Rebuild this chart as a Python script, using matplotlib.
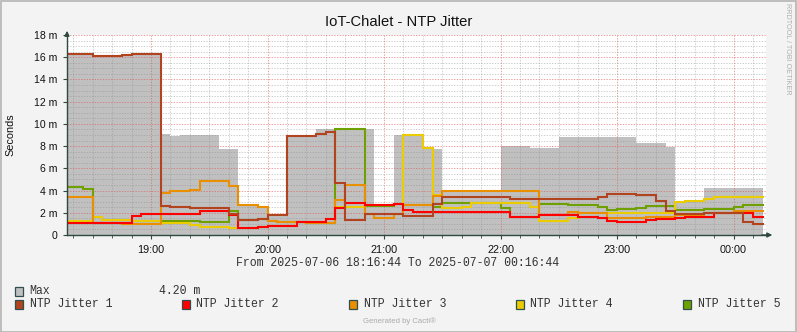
import datetime as dt
import matplotlib
matplotlib.use('Agg')
import matplotlib.pyplot as plt
import matplotlib.dates as mdates
from matplotlib.patches import Rectangle
from matplotlib.ticker import MultipleLocator, FuncFormatter

# values are in milliseconds ("m" on the axis)
t_end_data = "00:15"

max_t = ["18:16:44", "18:30", "18:45", "18:50", "19:05", "19:10", "19:15", "19:35", "19:45",
         "19:55", "20:00", "20:10", "20:25", "20:55", "21:05", "21:20", "21:30", "22:00",
         "22:15", "22:30", "23:10", "23:25", "23:30", "23:45"]
max_v = [16.3, 16.1, 16.2, 16.25, 9.1, 8.9, 9.0, 7.7, 2.67,
         2.5, 1.8, 9.0, 9.5, 2.73, 9.0, 7.7, 3.93, 8.0,
         7.8, 8.8, 8.25, 7.95, 3.06, 4.2]

j1_t = ["18:16:44", "18:30", "18:45", "18:50", "19:05", "19:10", "19:20", "19:40", "19:45",
        "19:55", "20:00", "20:10", "20:25", "20:30", "20:35", "20:40", "20:50", "21:10",
        "21:25", "21:30", "22:05", "22:50", "22:55", "23:10", "23:20", "23:25", "23:30",
        "23:45", "00:05", "00:10"]
j1_v = [16.3, 16.1, 16.2, 16.25, 2.58, 2.49, 2.4, 1.85, 1.32,
        1.44, 1.77, 8.9, 9.06, 9.3, 4.65, 1.32, 1.92, 1.74,
        2.79, 3.39, 3.27, 3.42, 3.66, 3.57, 3.03, 2.13, 1.92,
        1.98, 1.14, 1.02]

j2_t = ["18:16:44", "18:30", "18:50", "18:55", "19:25", "19:40", "19:45", "19:55", "20:00",
        "20:15", "20:30", "20:35", "20:40", "20:50", "21:05", "21:10", "21:15", "22:05",
        "22:20", "22:35", "22:40", "22:50", "22:55", "23:00", "23:15", "23:20", "23:30",
        "23:35", "23:50", "00:10"]
j2_v = [1.08, 1.1, 1.74, 1.89, 2.19, 1.83, 0.63, 0.72, 0.78,
        1.17, 1.47, 2.4, 2.85, 2.7, 2.79, 2.22, 2.04, 1.62,
        1.8, 1.77, 1.62, 1.53, 1.23, 1.14, 1.32, 1.44, 1.5,
        1.64, 2.0, 1.66]

j3_t = ["18:16:44", "18:30", "18:45", "19:05", "19:10", "19:20", "19:25", "19:40", "19:45",
        "19:55", "20:00", "20:05", "20:20", "20:35", "20:40", "20:50", "20:55", "21:05",
        "21:10", "21:25", "21:30", "22:20", "22:35", "22:40", "22:55", "23:15", "23:30",
        "23:45", "00:00"]
j3_v = [3.39, 1.1, 0.99, 3.81, 3.93, 4.02, 4.83, 4.38, 2.67,
        2.49, 1.23, 1.14, 1.05, 3.12, 4.47, 1.92, 1.53, 1.92,
        2.73, 3.48, 3.93, 1.83, 2.04, 1.98, 1.53, 1.62, 1.83,
        1.98, 2.13]

j4_t = ["18:16:44", "18:30", "18:35", "18:50", "19:05", "19:20", "19:25", "19:40", "19:55",
        "20:00", "20:15", "20:30", "20:35", "20:50", "21:05", "21:10", "21:20", "21:25",
        "21:30", "21:40", "21:45", "22:15", "22:20", "22:25", "22:35", "22:40", "23:30",
        "23:35", "23:45", "23:50"]
j4_v = [1.23, 1.62, 1.32, 1.27, 1.05, 0.87, 0.75, 0.63, 0.72,
        0.78, 1.17, 1.47, 2.52, 2.7, 2.79, 9.0, 7.8, 3.63,
        2.43, 2.52, 2.9, 2.49, 1.29, 1.23, 1.53, 1.98, 2.94,
        3.09, 3.24, 3.39]

j5_t = ["18:16:44", "18:25", "18:30", "18:50", "19:25", "19:40", "19:45", "19:55", "20:00",
        "20:05", "20:20", "20:35", "20:50", "21:05", "21:10", "21:25", "21:30", "22:00",
        "22:05", "22:20", "22:35", "22:50", "22:55", "23:00", "23:10", "23:15", "23:30",
        "23:45", "00:00", "00:05"]
j5_v = [4.35, 4.1, 1.12, 1.29, 1.2, 2.13, 1.32, 1.44, 1.23,
        1.14, 1.05, 9.5, 2.64, 2.76, 2.73, 2.55, 2.85, 2.4,
        1.62, 2.82, 2.73, 2.55, 2.25, 2.34, 2.43, 2.58, 2.22,
        2.34, 2.49, 2.67]

names = ["NTP Jitter 1", "NTP Jitter 2", "NTP Jitter 3", "NTP Jitter 4", "NTP Jitter 5"]
colors = ["#B1441E", "#FF0000", "#EA8F00", "#EACC00", "#6EA100"]
max_color = "#C0C0C0"
axis_color = "#2E4A40"

day = dt.datetime(2025, 7, 6)
t_start = dt.datetime(2025, 7, 6, 18, 16, 44)
t_end = dt.datetime(2025, 7, 7, 0, 16, 44)


def to_time(s):
    parts = [int(p) for p in s.split(':')]
    h, m = parts[0], parts[1]
    sec = parts[2] if len(parts) > 2 else 0
    d = day + dt.timedelta(hours=h, minutes=m, seconds=sec)
    if h < 12:
        d += dt.timedelta(days=1)
    return d


def steps(times, vals):
    x = [to_time(s) for s in times] + [to_time(t_end_data)]
    y = list(vals) + [vals[-1]]
    return x, y


W, H = 797, 332
fig = plt.figure(figsize=(W / 100, H / 100), dpi=100, facecolor='#F3F3F3')


def px(x, y):
    return x / W, 1 - y / H


# outer border
fig.patches.append(Rectangle((0.5 / W, 0.5 / H), 1 - 1.5 / W, 1 - 1.5 / H, transform=fig.transFigure,
                             fill=False, edgecolor='#B4B4B4', lw=1.2))

ax = fig.add_axes([67 / W, (H - 235) / H, 699 / W, 200 / H])
ax.set_facecolor('white')

x, y = steps(max_t, max_v)
ax.fill_between(x, y, step='post', color=max_color, lw=0, zorder=1)

series = [(j1_t, j1_v), (j2_t, j2_v), (j3_t, j3_v), (j4_t, j4_v), (j5_t, j5_v)]
# drawn last-to-first so the first series ends on top
for i in range(len(series) - 1, -1, -1):
    x, y = steps(*series[i])
    ax.plot(x, y, drawstyle='steps-post', color=colors[i], lw=1.5, zorder=3 + (5 - i),
            solid_joinstyle='miter')

ax.set_xlim(t_start, t_end)
ax.set_ylim(0, 18)

ax.xaxis.set_major_locator(mdates.HourLocator())
ax.xaxis.set_minor_locator(mdates.MinuteLocator(byminute=range(0, 60, 10)))
ax.xaxis.set_major_formatter(mdates.DateFormatter('%H:%M'))
ax.yaxis.set_major_locator(MultipleLocator(2))
ax.yaxis.set_minor_locator(MultipleLocator(0.5))
ax.yaxis.set_major_formatter(FuncFormatter(lambda v, p: '0' if v == 0 else '%g m' % v))

ax.grid(which='minor', color='#8C8C8C', alpha=0.42, lw=0.7, linestyle=(0, (1.4, 1.4)), zorder=2)
ax.grid(which='major', color='#E05050', alpha=0.55, lw=0.7, linestyle=(0, (1.4, 1.4)), zorder=2)
ax.set_axisbelow(False)

for s in ['top', 'right']:
    ax.spines[s].set_visible(False)
for s in ['left', 'bottom']:
    ax.spines[s].set_color(axis_color)
    ax.spines[s].set_linewidth(1.0)
    ax.spines[s].set_zorder(10)

ax.tick_params(which='both', colors=axis_color, labelcolor='#111111', direction='out')
ax.tick_params(axis='y', which='major', length=3, pad=4, labelsize=7.6)
ax.tick_params(axis='y', which='minor', length=0)
ax.tick_params(axis='x', which='major', length=3, pad=4, labelsize=7.8)
ax.tick_params(axis='x', which='minor', length=2)
for lab in ax.get_xticklabels() + ax.get_yticklabels():
    lab.set_family('Liberation Sans')

# axis arrows
ax.annotate('', xy=(0, 1.035), xytext=(0, 0.99), xycoords='axes fraction',
            arrowprops=dict(arrowstyle='-|>', color=axis_color, lw=1.0, mutation_scale=7),
            annotation_clip=False)
ax.annotate('', xy=(1.013, 0), xytext=(0.99, 0), xycoords='axes fraction',
            arrowprops=dict(arrowstyle='-|>', color=axis_color, lw=1.0, mutation_scale=7),
            annotation_clip=False)

fig.text(*px(398.5, 22), 'IoT-Chalet - NTP Jitter', ha='center', va='center',
         fontsize=10.6, family='Liberation Sans', color='#111111')
fig.text(*px(10, 135), 'Seconds', rotation=90, ha='center', va='center',
         fontsize=7.8, family='Liberation Sans', color='#111111')
fig.text(*px(788, 3), 'RRDTOOL / TOBI OETIKER', rotation=270, ha='center', va='top',
         fontsize=5.2, family='Liberation Sans', color='#B0B0B0')

mono = dict(family='Liberation Mono', fontsize=8.3, color='#333333', va='center')
fig.text(*px(398, 263), 'From 2025-07-06 18:16:44 To 2025-07-07 00:16:44', ha='center', **mono)


def legend_box(x0, yc, color):
    bx, by = px(x0, yc + 4.5)
    fig.patches.append(Rectangle((bx, by), 8 / W, 9 / H, transform=fig.transFigure,
                                 facecolor=color, edgecolor='#2F4F4F', lw=0.9))


legend_box(15, 291.5, max_color)
fig.text(*px(29.5, 291), 'Max', ha='left', **mono)
fig.text(*px(159, 291), '%.2f m' % max_v[-1], ha='left', **mono)

legend_x = [15, 182, 349, 516, 683]
for lx, name, c in zip(legend_x, names, colors):
    legend_box(lx, 304.5, c)
    fig.text(*px(lx + 14.5, 304), name, ha='left', **mono)

fig.text(*px(399, 321.5), 'Generated by Cacti®', ha='center', va='center',
         fontsize=5.6, family='Liberation Sans', color='#AAAAAA')

fig.savefig('out.png', dpi=100, facecolor=fig.get_facecolor())
